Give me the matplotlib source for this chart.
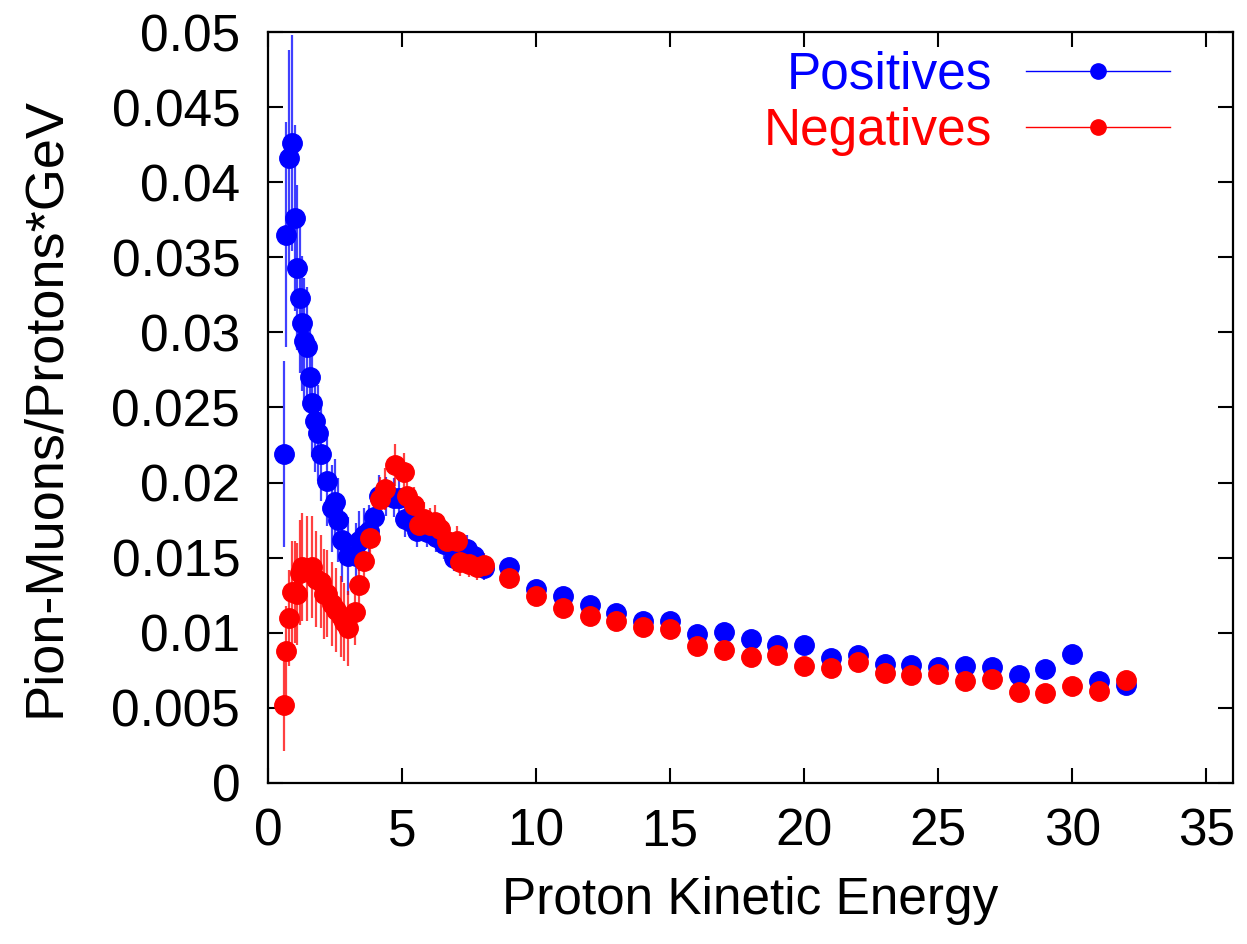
import matplotlib.pyplot as plt
from matplotlib.lines import Line2D
from matplotlib.ticker import FuncFormatter, MultipleLocator

# Positives (pi+ -> mu+)
pos_x = [0.60, 0.68, 0.78, 0.88, 0.99, 1.07, 1.18, 1.28, 1.34, 1.45, 1.55, 1.65, 1.75, 1.87, 1.98,
         2.20, 2.39, 2.51, 2.60, 2.76, 2.97, 3.27, 3.40, 3.60, 3.75, 3.95, 4.13, 4.40, 4.69, 4.90,
         5.12, 5.35, 5.56, 5.93, 6.25, 6.55, 6.93, 7.20, 7.43, 7.67, 8.05,
         9, 10, 11, 12, 13, 14, 15, 16, 17, 18, 19, 20, 21, 22, 23, 24, 25, 26, 27, 28, 29, 30, 31, 32]
pos_y = [0.0219, 0.0365, 0.0416, 0.0426, 0.0376, 0.0343, 0.0323, 0.0306, 0.0294, 0.0290, 0.0270,
         0.0253, 0.0241, 0.0233, 0.0219, 0.0201, 0.0183, 0.0187, 0.0175, 0.0162, 0.0151, 0.0151,
         0.0161, 0.0165, 0.0168, 0.0177, 0.0191, 0.0191, 0.0190, 0.0190, 0.0176, 0.0174, 0.0168,
         0.0167, 0.0164, 0.0159, 0.0150, 0.0152, 0.0156, 0.0151, 0.0143,
         0.01437, 0.01293, 0.01242, 0.01187, 0.01131, 0.01080, 0.01078, 0.00994, 0.01005, 0.00961,
         0.00916, 0.00916, 0.00835, 0.00850, 0.00792, 0.00784, 0.00772, 0.00777, 0.00772, 0.00717,
         0.00761, 0.00861, 0.00679, 0.00651]
pos_err = [0.0062, 0.0075, 0.0072, 0.0072, 0.0062, 0.0055, 0.0050, 0.0045, 0.0042, 0.0040, 0.0038,
           0.0036, 0.0034, 0.0032, 0.0031, 0.0030, 0.0029, 0.0029, 0.0028, 0.0028, 0.0026, 0.0022,
           0.0020, 0.0018, 0.0017, 0.0015, 0.0014, 0.0013, 0.0013, 0.0012, 0.0012, 0.0011, 0.0011,
           0.0010, 0.0010, 0.0010, 0.0009, 0.0009, 0.0009, 0.0009, 0.0008,
           0.0006, 0.0005, 0.0005, 0.0005, 0.0004, 0.0004, 0.0004, 0.0004, 0.0003, 0.0003,
           0.0003, 0.0003, 0.0003, 0.0003, 0.0003, 0.0003, 0.0003, 0.0003, 0.0003, 0.0003,
           0.0003, 0.0003, 0.0003, 0.0003]

# Negatives (pi- -> mu-)
neg_x = [0.60, 0.68, 0.78, 0.88, 0.99, 1.09, 1.18, 1.28, 1.45, 1.64, 1.80, 1.96, 2.08, 2.21, 2.39,
         2.55, 2.71, 2.85, 3.00, 3.25, 3.39, 3.58, 3.79, 4.19, 4.38, 4.75, 5.06, 5.19, 5.43, 5.62,
         5.81, 6.05, 6.24, 6.43, 6.68, 7.05, 7.18, 7.49, 7.80, 8.05,
         9, 10, 11, 12, 13, 14, 15, 16, 17, 18, 19, 20, 21, 22, 23, 24, 25, 26, 27, 28, 29, 30, 31, 32]
neg_y = [0.0052, 0.0088, 0.0110, 0.0127, 0.0127, 0.0126, 0.0140, 0.0144, 0.0143, 0.0144, 0.0136,
         0.0134, 0.0126, 0.0126, 0.0119, 0.0115, 0.0111, 0.0107, 0.0103, 0.0114, 0.0132, 0.0148,
         0.0163, 0.0189, 0.0196, 0.0212, 0.0207, 0.0191, 0.0185, 0.0172, 0.0176, 0.0172, 0.0174,
         0.0169, 0.0161, 0.0161, 0.0147, 0.0146, 0.0144, 0.0145,
         0.01366, 0.01248, 0.01167, 0.01111, 0.01076, 0.01038, 0.01027, 0.00910, 0.00883, 0.00839,
         0.00850, 0.00777, 0.00766, 0.00805, 0.00735, 0.00717, 0.00728, 0.00679, 0.00695, 0.00606,
         0.00602, 0.00644, 0.00613, 0.00684]
neg_err = [0.0031, 0.0030, 0.0032, 0.0034, 0.0034, 0.0034, 0.0035, 0.0036, 0.0035, 0.0034, 0.0032,
           0.0031, 0.0030, 0.0029, 0.0028, 0.0028, 0.0027, 0.0026, 0.0025, 0.0022, 0.0020, 0.0018,
           0.0016, 0.0015, 0.0014, 0.0014, 0.0013, 0.0012, 0.0012, 0.0011, 0.0011, 0.0011, 0.0011,
           0.0010, 0.0010, 0.0010, 0.0009, 0.0009, 0.0009, 0.0008,
           0.0006, 0.0005, 0.0005, 0.0005, 0.0004, 0.0004, 0.0004, 0.0004, 0.0003, 0.0003,
           0.0003, 0.0003, 0.0003, 0.0003, 0.0003, 0.0003, 0.0003, 0.0003, 0.0003, 0.0003,
           0.0003, 0.0003, 0.0003, 0.0003]

plt.rcParams['font.family'] = ['Liberation Sans', 'DejaVu Sans']
fs = 37

fig = plt.figure(figsize=(12.47, 9.44), dpi=100)
ax = fig.add_axes([0.2149, 0.1706, 0.7739, 0.7955])

ax.errorbar(pos_x, pos_y, yerr=pos_err, fmt='o', color='#0000ff', ecolor=(0, 0, 1, 0.75),
            elinewidth=1.6, markersize=14, capsize=0)
ax.errorbar(neg_x, neg_y, yerr=neg_err, fmt='o', color='#ff0000', ecolor=(1, 0, 0, 0.75),
            elinewidth=1.6, markersize=14, capsize=0)

ax.set_xlim(0, 36)
ax.set_ylim(0, 0.05)
ax.xaxis.set_major_locator(MultipleLocator(5))
ax.yaxis.set_major_locator(MultipleLocator(0.005))
ax.yaxis.set_major_formatter(FuncFormatter(lambda v, p: '%g' % round(v, 4)))
ax.xaxis.set_major_formatter(FuncFormatter(lambda v, p: '%g' % v))
ax.tick_params(direction='in', length=11, width=1.5, top=True, right=True, labelsize=fs)
ax.tick_params(axis='y', pad=20)
ax.tick_params(axis='x', pad=18)
for s in ax.spines.values():
    s.set_linewidth(1.6)

ax.set_xlabel('Proton Kinetic Energy', fontsize=fs, labelpad=14)
ax.set_ylabel('Pion-Muons/Protons*GeV', fontsize=39, labelpad=30)

handles = [Line2D([], [], color='#0000ff', lw=1, marker='o', markersize=11),
           Line2D([], [], color='#ff0000', lw=1, marker='o', markersize=11)]
leg = ax.legend(handles, ['Positives', 'Negatives'], loc='upper right',
                bbox_to_anchor=(0.935, 0.975), frameon=False, markerfirst=False,
                numpoints=1, fontsize=fs, handlelength=2.8, handletextpad=0.66,
                labelspacing=0.15, borderpad=0, borderaxespad=0)
for t, c in zip(leg.get_texts(), ['#0000ff', '#ff0000']):
    t.set_color(c)

fig.savefig('out.png', dpi=100)
